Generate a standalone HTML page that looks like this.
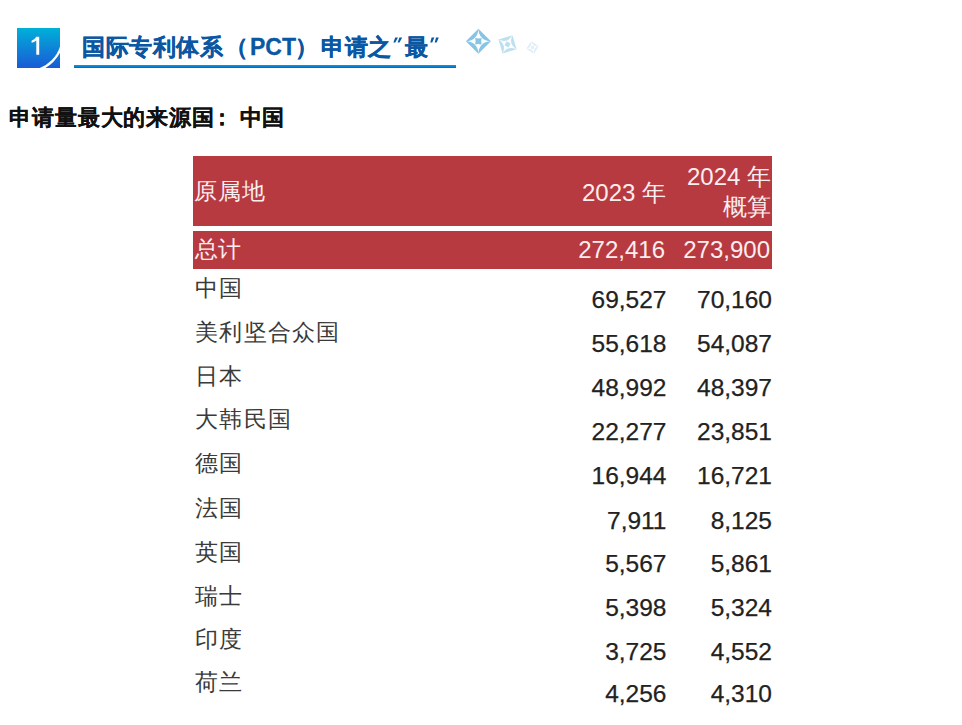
<!DOCTYPE html>
<html><head><meta charset="utf-8">
<style>
html,body{margin:0;padding:0;background:#fff;width:962px;height:725px;overflow:hidden;position:relative}
body{font-family:"Liberation Sans",sans-serif}
.abs{position:absolute;white-space:nowrap}
#badge{left:17px;top:28px;width:43px;height:40px;background:linear-gradient(#00b0d8,#1a5ad6);overflow:hidden}
.tt{position:absolute;top:30px;font-size:23px;font-weight:bold;color:#0a57a3;line-height:34px;white-space:nowrap;letter-spacing:0px;-webkit-text-stroke:0.3px #0a57a3}
#uline{left:74px;top:65px;width:382px;height:3px;background:linear-gradient(#00a6d4,#075ed2)}
#sub{left:8px;top:102.5px;font-size:22px;font-weight:bold;color:#111;line-height:30px;letter-spacing:0.9px;-webkit-text-stroke:0.12px #111}
#hdr{left:193px;top:155.5px;width:579px;height:70.5px;background:#b83a41}
#tot{left:193px;top:230.5px;width:579px;height:38.3px;background:#b83a41;overflow:hidden}
.w{color:#fbeeee}
.name{font-size:23px;color:#3a3a3a;left:195px;line-height:30px;letter-spacing:1.3px}
.num{font-size:24.5px;color:#222;text-align:right;line-height:30px;-webkit-text-stroke:0.25px #222}
.c1{right:295.5px}
.c2{right:190px}
</style></head><body>
<div id="badge" class="abs">
<svg width="43" height="40" style="position:absolute;left:0;top:0">
<path d="M19.3 8.7 L22.2 8.7 L22.2 26.8 L19.3 26.8 L19.3 12.4 Q17.2 14 14.6 14.7 L14.6 12.7 Q17.8 11.3 19.3 8.7Z" fill="#fff"/>
<circle cx="10.8" cy="8.5" r="34.8" fill="none" stroke="#fff" stroke-width="2.4"/></svg></div>
<div class="tt" style="left:82px;letter-spacing:0.5px">国际专利体系</div>
<div class="tt" style="left:225px">（</div>
<div class="tt" style="left:250px">PCT</div>
<div class="tt" style="left:295px">）</div>
<div class="tt" style="left:321px;letter-spacing:0.6px">申请之</div>
<div class="tt" style="left:405px">最</div>
<svg class="abs" style="left:390px;top:36px" width="52" height="14">
<path d="M5.2 1.5 L8 1.5 L5.3 6.5 L3.4 6.5Z M9.4 1.5 L12.2 1.5 L9.5 6.5 L7.6 6.5Z" fill="#0a57a3"/>
<path d="M41.6 1.5 L44.4 1.5 L42.2 6.5 L40.3 6.5Z M46 1.5 L48.8 1.5 L46.6 6.5 L44.7 6.5Z" fill="#0a57a3"/>
</svg>
<div id="uline" class="abs"></div>
<svg class="abs" style="left:450px;top:20px" width="100" height="45">
 <g transform="translate(28.4,21.2)"><path d="M0 -12.5 L12.5 0 L0 12.5 L-12.5 0Z" fill="#86c5e5"/><path d="M0 -12.5 Q0.6 -0.6 12.5 0 Q0.6 0.6 0 12.5 Q-0.6 0.6 -12.5 0 Q-0.6 -0.6 0 -12.5Z" fill="#fff"/><path d="M-3.2 -3.2 Q0 -2.4 3.2 -3.2 Q2.4 0 3.2 3.2 Q0 2.4 -3.2 3.2 Q-2.4 0 -3.2 -3.2Z" fill="#86c5e5"/></g>
 <g transform="translate(57.5,24.4) rotate(-16.5)"><path d="M-7.3 -7.3 L7.3 -7.3 L7.3 7.3 L-7.3 7.3Z" fill="#bde0f1"/><path d="M-7.3 -7.3 Q0 -0.7 7.3 -7.3 Q0.7 0 7.3 7.3 Q0 0.7 -7.3 7.3 Q-0.7 0 -7.3 -7.3Z" fill="#fff"/><path d="M0 -3.2 L3.2 0 L0 3.2 L-3.2 0Z" fill="#bde0f1"/></g>
 <g transform="translate(82.6,27.5) rotate(33.7)"><path d="M-4.5 -4.5 L4.5 -4.5 L4.5 4.5 L-4.5 4.5Z" fill="#dceef8"/><path d="M-4.5 -4.5 Q0 -0.46 4.5 -4.5 Q0.46 0 4.5 4.5 Q0 0.46 -4.5 4.5 Q-0.46 0 -4.5 -4.5Z" fill="#fff"/><path d="M0 -2 L2 0 L0 2 L-2 0Z" fill="#dceef8"/></g>
</svg>
<div id="sub" class="abs"><span style="margin-left:1px">申请量最大的来源国</span><span style="margin-left:-4.5px">：</span><span style="margin-left:6px">中国</span></div>
<div id="hdr" class="abs"></div>
<div id="tot" class="abs"><div class="abs w" style="right:2px;top:4px;font-size:24px;line-height:30px">273,900</div></div>
<div class="abs w" style="left:194px;top:176px;font-size:23px;line-height:30px;letter-spacing:1px">原属地</div>
<div class="abs w" style="right:296px;top:178px;font-size:24px;line-height:30px">2023 年</div>
<div class="abs w" style="right:191px;top:162px;font-size:24px;line-height:29.5px;text-align:right">2024 年<br>概算</div>
<div class="abs w" style="left:195px;top:234px;font-size:23px;line-height:30px">总计</div>
<div class="abs w" style="right:297px;top:235px;font-size:24px;line-height:30px">272,416</div>
<div class="abs name" style="top:273.3px">中国</div>
<div class="abs num c1" style="top:285.4px">69,527</div>
<div class="abs num c2" style="top:285.4px">70,160</div>
<div class="abs name" style="top:317px">美利坚合众国</div>
<div class="abs num c1" style="top:329.1px">55,618</div>
<div class="abs num c2" style="top:329.1px">54,087</div>
<div class="abs name" style="top:360.7px">日本</div>
<div class="abs num c1" style="top:373.4px">48,992</div>
<div class="abs num c2" style="top:373.4px">48,397</div>
<div class="abs name" style="top:404.4px">大韩民国</div>
<div class="abs num c1" style="top:416.9px">22,277</div>
<div class="abs num c2" style="top:416.9px">23,851</div>
<div class="abs name" style="top:447.8px">德国</div>
<div class="abs num c1" style="top:460.5px">16,944</div>
<div class="abs num c2" style="top:460.5px">16,721</div>
<div class="abs name" style="top:493.1px">法国</div>
<div class="abs num c1" style="top:505.9px">7,911</div>
<div class="abs num c2" style="top:505.9px">8,125</div>
<div class="abs name" style="top:536.6px">英国</div>
<div class="abs num c1" style="top:549.2px">5,567</div>
<div class="abs num c2" style="top:549.2px">5,861</div>
<div class="abs name" style="top:580.6px">瑞士</div>
<div class="abs num c1" style="top:592.6px">5,398</div>
<div class="abs num c2" style="top:592.6px">5,324</div>
<div class="abs name" style="top:624px">印度</div>
<div class="abs num c1" style="top:636.7px">3,725</div>
<div class="abs num c2" style="top:636.7px">4,552</div>
<div class="abs name" style="top:667px">荷兰</div>
<div class="abs num c1" style="top:679.4px">4,256</div>
<div class="abs num c2" style="top:679.4px">4,310</div>
</body></html>
